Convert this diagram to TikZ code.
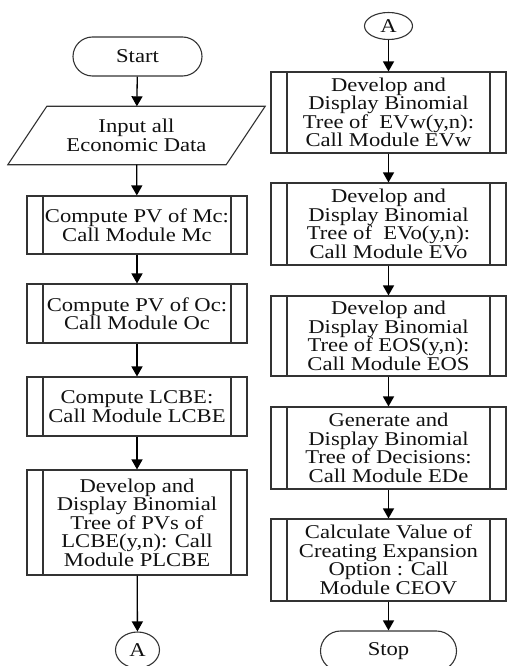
\documentclass[tikz,border=0pt]{standalone}
\usepackage{fontspec}
\setmainfont{Liberation Serif}[FakeStretch=1.16]
\usetikzlibrary{arrows.meta,shapes.geometric}
\definecolor{linec}{HTML}{333333}
\definecolor{textc}{HTML}{111111}
\begin{document}
\begin{tikzpicture}[x=1pt,y=-1pt,
  every node/.style={text=textc,font=\fontsize{19.5}{18.5}\selectfont,inner sep=0pt,align=center},
  termbox/.style={draw=linec,line width=1.1pt,minimum width=#1,minimum height=39pt,rounded corners=19.5pt},
  procbox/.style={draw=linec,line width=1.1pt,rectangle,minimum width=#1,
    path picture={\draw[linec,line width=1.1pt]
      ([xshift=16pt]path picture bounding box.north west) -- ([xshift=16pt]path picture bounding box.south west)
      ([xshift=-16pt]path picture bounding box.north east) -- ([xshift=-16pt]path picture bounding box.south east);}},
  lbox/.style={procbox=220pt},
  rbox/.style={procbox=235pt},
  conn/.style={draw=linec,line width=1.1pt,ellipse},
  flow/.style={draw=black,line width=1.3pt,-{Triangle[width=11pt,length=10pt]}}
]
\useasboundingbox (0,0) rectangle (507,666);
% left column
\node[termbox=129pt] (start) at (137.5,56.5) {Start};
\node[minimum width=218pt,minimum height=58pt] (in) at (136.5,135.5) {Input all\\Economic Data};
\draw[linec,line width=1.1pt] ([xshift=19.5pt]in.north west) -- ([xshift=19.5pt]in.north east)
  -- ([xshift=-19.5pt]in.south east) -- ([xshift=-19.5pt]in.south west) -- cycle;
\node[lbox,minimum height=58pt] (mc) at (137,225) {Compute PV of Mc:\\Call Module Mc};
\node[lbox,minimum height=59pt] (oc) at (137,313.5) {Compute PV of Oc:\\Call Module Oc};
\node[lbox,minimum height=59pt] (lcbe) at (137,406.5) {Compute LCBE:\\Call Module LCBE};
\node[lbox,minimum height=105pt] (plcbe) at (137,522.5) {Develop and\\Display Binomial\\Tree of PVs of\\LCBE(y,n): Call\\Module PLCBE};
\node[conn,minimum width=44pt,minimum height=36pt] (a1) at (137.5,650) {A};
% right column
\node[conn,minimum width=48pt,minimum height=27pt] (a2) at (388.5,26) {A};
\node[rbox,minimum height=81pt] (evw) at (388.5,112.5) {Develop and\\Display Binomial\\Tree of\ \ EVw(y,n):\\Call Module EVw};
\node[rbox,minimum height=82pt] (evo) at (388.5,224) {Develop and\\Display Binomial\\Tree of\ \ EVo(y,n):\\Call Module EVo};
\node[rbox,minimum height=80pt] (eos) at (388.5,336) {Develop and\\Display Binomial\\Tree of EOS(y,n):\\Call Module EOS};
\node[rbox,minimum height=82pt] (ede) at (388.5,448) {Generate and\\Display Binomial\\Tree of Decisions:\\Call Module EDe};
\node[rbox,minimum height=82pt] (ceov) at (388.5,560) {Calculate Value of\\Creating Expansion\\Option : Call\\Module CEOV};
\node[termbox=136pt,minimum height=40pt,rounded corners=20pt] (stop) at (388.5,651) {Stop};
% connectors
\draw[flow] (start) -- (in);
\draw[flow] (in) -- (mc);
\draw[flow] (mc) -- (oc);
\draw[flow] (oc) -- (lcbe);
\draw[flow] (lcbe) -- (plcbe);
\draw[flow] (plcbe) -- (a1);
\draw[flow] (a2) -- (evw);
\draw[flow] (evw) -- (evo);
\draw[flow] (evo) -- (eos);
\draw[flow] (eos) -- (ede);
\draw[flow] (ede) -- (ceov);
\draw[flow] (ceov) -- (stop);
\end{tikzpicture}
\end{document}
